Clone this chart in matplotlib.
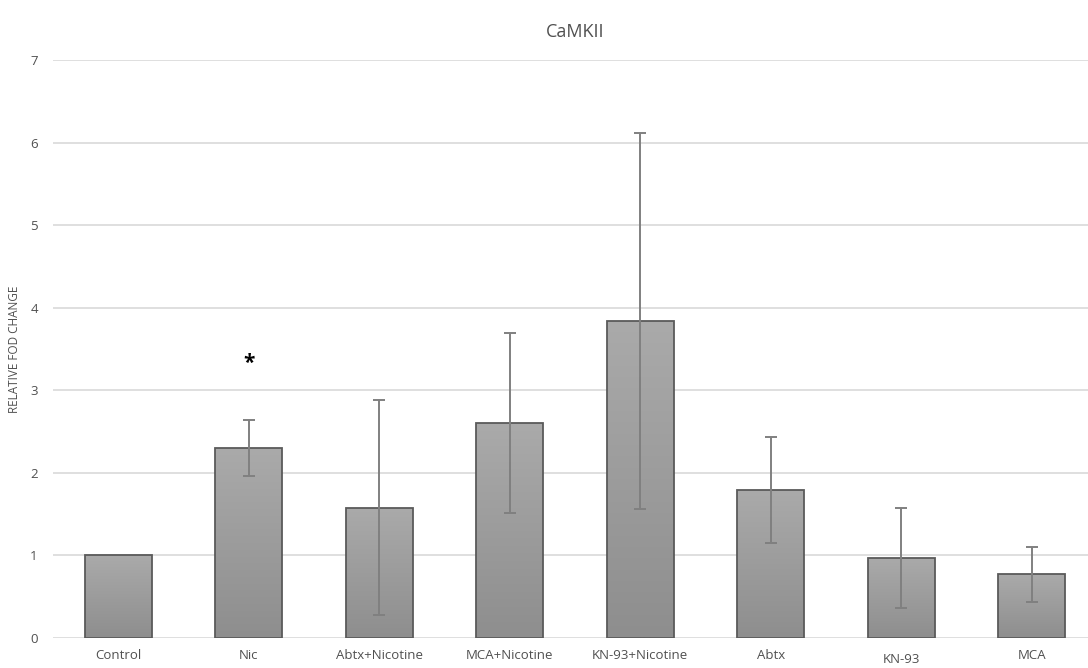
import numpy as np
import matplotlib
matplotlib.use("Agg")
import matplotlib.pyplot as plt

categories = ["Control", "Nic", "Abtx+Nicotine", "MCA+Nicotine",
              "KN-93+Nicotine", "Abtx", "KN-93", "MCA"]
means = [1.00, 2.30, 1.58, 2.60, 3.84, 1.79, 0.97, 0.77]
errors = [0.0, 0.34, 1.30, 1.09, 2.28, 0.64, 0.61, 0.33]
yticks = [0, 1, 2, 3, 4, 5, 6, 7]

plt.rcParams["font.family"] = ["Open Sans", "DejaVu Sans"]

fig = plt.figure(figsize=(10.88, 6.68), dpi=100)
ax = fig.add_axes([53 / 1088, (668 - 638) / 668, 1 - 53 / 1088, (638 - 60) / 668])

x = np.arange(len(categories))
width = 0.51
bars = ax.bar(x, means, width=width, color="none", edgecolor="#5a5a5a",
              linewidth=1.3, zorder=3)

# vertical gradient fill for each bar
grad = np.linspace(0, 1, 256).reshape(-1, 1)
cmap = matplotlib.colors.LinearSegmentedColormap.from_list(
    "barfill", ["#8e8e8e", "#aaaaaa"])
for b in bars:
    x0, y0 = b.get_x(), b.get_y()
    w, h = b.get_width(), b.get_height()
    im = ax.imshow(grad, extent=[x0, x0 + w, y0, y0 + h], origin="lower",
                   aspect="auto", cmap=cmap, zorder=2)
    im.set_clip_path(b)

for xi, m, e in zip(x, means, errors):
    if e > 0:
        ax.errorbar(xi, m, yerr=e, fmt="none", ecolor="#808080",
                    elinewidth=1.4, capsize=4, capthick=1.4, zorder=4)

ax.text(1, 3.33, "*", ha="center", va="center", fontsize=15,
        fontweight="bold", color="black")

ax.set_xlim(-0.5, 7.5 - 9 / 130.5)
ax.set_ylim(0, 7)
ax.set_yticks(yticks)
ax.yaxis.grid(True, color="#d9d9d9", linewidth=1.2, zorder=0)
ax.set_axisbelow(True)
for s in ax.spines.values():
    s.set_visible(False)
ax.tick_params(axis="both", length=0, colors="#505050", labelsize=9.5)
ax.tick_params(axis="y", pad=11)
ax.set_xticks(x)
ax.set_xticklabels(categories)
ax.tick_params(axis="x", pad=8)
for i, lab in enumerate(ax.get_xticklabels()):
    if categories[i] == "KN-93":
        lab.set_y(-0.007)

ax.set_ylabel("RELATIVE FOD CHANGE", fontsize=8.5, color="#505050", labelpad=4)
ax.yaxis.set_label_coords(-0.031, 0.5)

fig.text(575 / 1088, 1 - 32 / 668, "CaMKII", ha="center", va="center",
         fontsize=13, color="#505050")

fig.savefig("out.png", dpi=100)
